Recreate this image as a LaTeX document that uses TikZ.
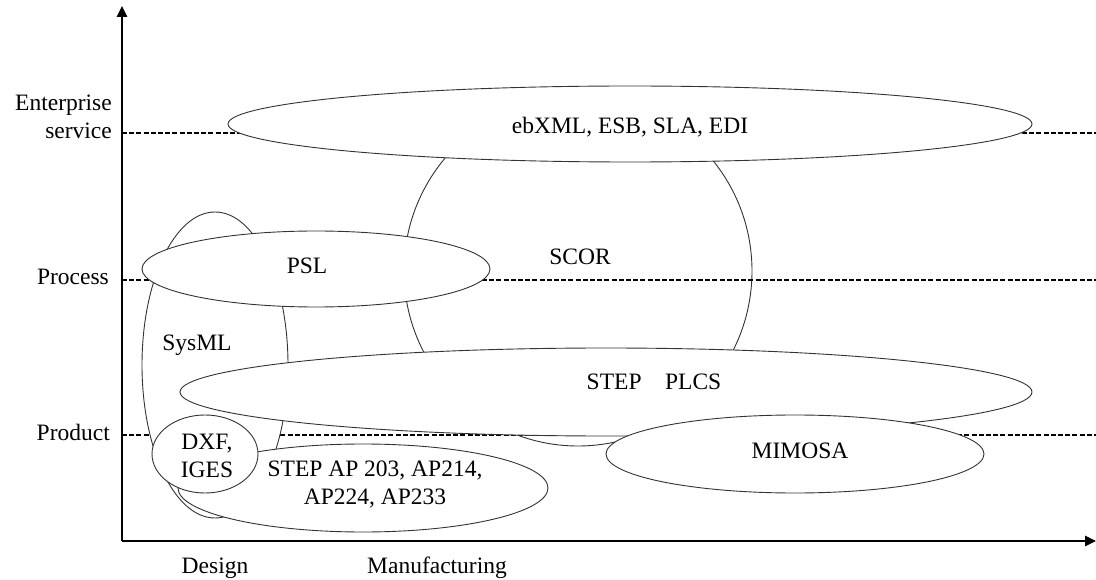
\documentclass[tikz,border=0pt]{standalone}
\usepackage{fontspec}
\setmainfont{Liberation Serif}
\usetikzlibrary{shapes.geometric,arrows.meta}
\begin{document}
\begin{tikzpicture}[x=1pt,y=-1pt,
  ell/.style={ellipse,draw=black!80,line width=0.9pt,fill=white,inner sep=0pt,outer sep=0pt},
  lbl/.style={font=\fontsize{23.5}{28}\selectfont,inner sep=0pt,align=center},
  level/.style={black,line width=2pt,dash pattern=on 5pt off 2.2pt},
  axis/.style={black,line width=2.5pt,-{Triangle[length=11pt,width=10pt]}}]
\useasboundingbox (0,0) rectangle (1096,580);
% origin and axis ends
\coordinate (o) at (122,541);
\coordinate (ytop) at (122,6);
\coordinate (xend) at (1096,541);
% level line ends
\coordinate (e0) at (122,133); \coordinate (e1) at (1096,133);
\coordinate (p0) at (122,280); \coordinate (p1) at (1096,280);
\coordinate (d0) at (122,435); \coordinate (d1) at (1096,435);
% SCOR (behind level lines)
\node[ell,minimum width=348pt,minimum height=350pt] (scor) at (578,271) {};
% level lines
\draw[level] (e0) -- (e1);
\draw[level] (p0) -- (p1);
\draw[level] (d0) -- (d1);
% ellipses
\node[ell,minimum width=146pt,minimum height=306pt] (sysml) at (215,365) {};
\node[ell,minimum width=348pt,minimum height=76pt] (psl) at (316,269) {};
\node[ell,minimum width=804pt,minimum height=76pt] (ebxml) at (630,124) {};
\node[ell,minimum width=852pt,minimum height=88pt] (plcs) at (606,392) {};
\node[ell,minimum width=378pt,minimum height=78pt] (mimosa) at (795,454) {};
\node[ell,minimum width=370pt,minimum height=88pt] (stepap) at (363,488) {};
\node[ell,minimum width=106pt,minimum height=78pt] (dxf) at (205,454) {};
% labels in ellipses
\node[lbl] (tscor) at (580,257) {SCOR};
\node[lbl] (tsysml) at (197,345) {SysML};
\node[lbl] (tpsl) at (307,266) {PSL};
\node[lbl] (tebxml) at (630,127) {ebXML, ESB, SLA, EDI};
\node[lbl] (tplcs) at (654,382) {STEP\quad PLCS};
\node[lbl] (tmimosa) at (800,451) {MIMOSA};
\node[lbl] (tdxf) at (207,456) {DXF,\\IGES};
\node[lbl] (tstepap) at (375,484) {STEP AP 203, AP214,\\AP224, AP233};
% axes
\draw[axis] (o) -- (ytop);
\draw[axis] (o) -- (xend);
% axis labels
\node[lbl,anchor=east,align=right] (tent) at (112,117) {Enterprise\\service};
\node[lbl,anchor=east] (tproc) at (109,277) {Process};
\node[lbl,anchor=east] (tprod) at (110,432) {Product};
\node[lbl] (tdesign) at (215,568) {Design};
\node[lbl] (tmanu) at (437,568) {Manufacturing};
\end{tikzpicture}
\end{document}
